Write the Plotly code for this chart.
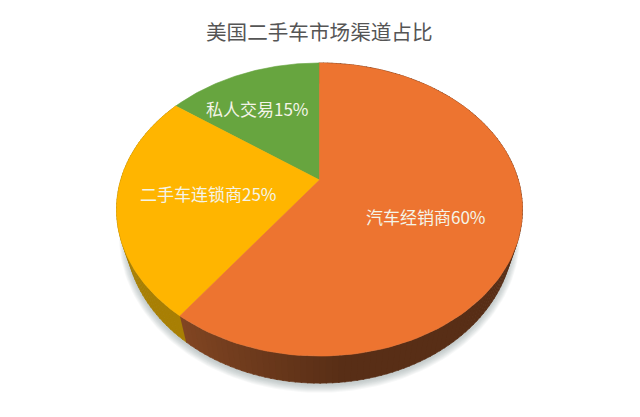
import numpy as np
import plotly.graph_objects as go

title = "美国二手车市场渠道占比"
categories = ["私人交易", "二手车连锁商", "汽车经销商"]
values = [15, 25, 60]
top_colors = ["#67A53F", "#FFB500", "#ED7430"]
side_colors = ["#4A7A2C", "#A87F04", "#5A2E15"]

# label anchor points, in page pixels
LABEL_XY = [(257, 108), (208, 193), (426, 216)]

# perspective geometry of the disc, in page pixels
P = 0.2014
TOP = dict(cx=319.5, cy=180.0, A=198.8, B=140.6)
BOT = dict(cx=319.5, cy=203.0, A=190.0, B=143.9)


def project(deg, g):
    """Share-angle (counter-clockwise from 12 o'clock) to page pixels."""
    t = np.radians(deg)
    u, v = -np.sin(t), np.cos(t)
    d = 1 + P * v
    return g["cx"] + g["A"] * u / d, g["cy"] - g["B"] * v / d


def poly(x, y, color, line=None):
    return go.Scatter(
        x=list(x), y=list(y), mode="lines", fill="toself", fillcolor=color,
        line=dict(width=0.6 if line else 0, color=line or color),
        hoverinfo="skip", showlegend=False,
    )


def mix(c1, c2, f):
    return "rgb(%d,%d,%d)" % tuple(a + (b - a) * f for a, b in zip(c1, c2))


fig = go.Figure()
full = np.linspace(0, 360, 241)

# soft shadow under the disc
for i in range(8, 0, -1):
    g = dict(BOT, A=BOT["A"] + i * 0.8, B=BOT["B"] + i * 0.8, cy=BOT["cy"] + 1.5)
    x, y = project(full, g)
    fig.add_trace(poly(x, y, "rgba(110,120,125,0.055)"))

# side wall and top face, both derived from the shares
edges = np.cumsum([0] + values) / sum(values) * 360
for k in range(1, len(values)):
    a0, a1 = edges[k], edges[k + 1]
    steps = max(2, int((a1 - a0) / 1.5))
    cuts = np.linspace(a0, a1, steps + 1)
    for s in range(steps):
        arc = np.linspace(cuts[s], cuts[s + 1] + 0.3, 4)
        tx, ty = project(arc, TOP)
        bx, by = project(arc[::-1], BOT)
        mid = (cuts[s] + cuts[s + 1]) / 2
        if k == 2:
            f = np.clip((mid - 144) / 42, 0, 1)
            col = mix((130, 70, 35), (88, 46, 22), f)
        else:
            col = side_colors[k]
        fig.add_trace(poly(np.r_[tx, bx], np.r_[ty, by], col, line=col))

for k in range(len(values)):
    arc = np.linspace(edges[k], edges[k + 1], 120)
    ax, ay = project(arc, TOP)
    fig.add_trace(poly(np.r_[TOP["cx"], ax, TOP["cx"]], np.r_[TOP["cy"], ay, TOP["cy"]],
                       top_colors[k], line=top_colors[k]))

for name, val, (lx, ly) in zip(categories, values, LABEL_XY):
    fig.add_annotation(x=lx, y=ly, text=f"{name}{val}%", showarrow=False,
                       font=dict(family="Noto Sans CJK SC", size=17, color="#F4F4E8"))

fig.add_annotation(x=319, y=31, text=title, showarrow=False,
                   font=dict(family="Noto Sans CJK SC", size=20.6, color="#555555"))

fig.update_layout(
    width=640, height=417, margin=dict(l=0, r=0, t=0, b=0),
    paper_bgcolor="white", plot_bgcolor="white", showlegend=False,
    xaxis=dict(range=[0, 640], visible=False, fixedrange=True),
    yaxis=dict(range=[417, 0], visible=False, fixedrange=True),
)
fig.write_html("out.html", config={"displayModeBar": False},
               post_script="document.body.style.margin='0';document.body.style.overflow='hidden';")
